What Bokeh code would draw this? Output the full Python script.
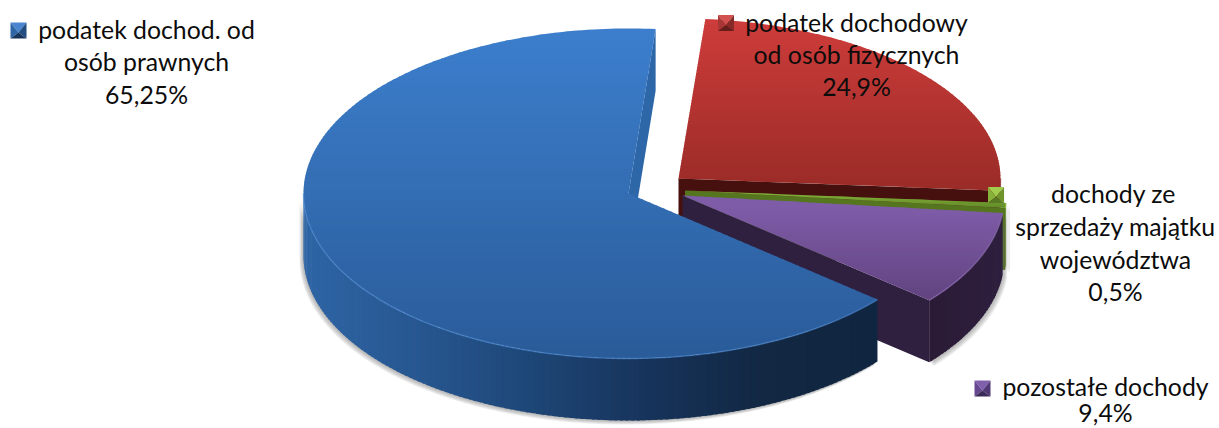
import math
from bokeh.plotting import figure
from bokeh.models import Range1d
from bokeh.core.properties import value
from bokeh.embed import file_html
from bokeh.resources import INLINE

# ---------- data ----------
categories = ["podatek dochod. od osób prawnych", "podatek dochodowy od osób fizycznych",
              "dochody ze sprzedaży majątku województwa", "pozostałe dochody"]
shares = [65.25, 24.9, 0.5, 9.4]
share_labels = ["65,25%", "24,9%", "0,5%", "9,4%"]

# ---------- layout ----------
W, H = 1219, 428
START_ANGLE = 40.0     # screen-clockwise from +x
DEPTH = 62.0
centres = [(628, 193), (678, 178), (684.5, 190), (682, 195)]
radii = [(325, 165), (322, 160), (322, 163), (322, 163)]
shadow_dir = [-0.8, 0.8, 0.8, 0.9]
top_cols = [("#3c7ecc", 33, "#2a5b98", 360), ("#cd3c3a", 19, "#992b27", 190),
            ("#84b33a", 190, "#5f8526", 208), ("#7f5ca8", 205, "#61437f", 300)]
wall_stops = [[(303, "#2e65a5"), (420, "#27568f"), (520, "#1e4879"), (640, "#17345c"), (760, "#122843"), (876, "#10253f")],
              [(0, "#45100e"), (2000, "#45100e")],
              [(0, "#5f8326"), (2000, "#5f8326")],
              [(920, "#2a1a35"), (1000, "#2e1f3e")]]
face_cols = ["#2d67a8", "#45100e", "#55751f", "#2f2040"]
rim_cols = ["#4d89d0", "#8a2724", "#94c040", "#8c6db5"]


def rgb(h):
    return tuple(int(h[i:i + 2], 16) for i in (1, 3, 5))


def mix(a, b, t):
    t = max(0.0, min(1.0, t))
    ca, cb = rgb(a), rgb(b)
    return "#%02x%02x%02x" % tuple(round(ca[i] + (cb[i] - ca[i]) * t) for i in range(3))


def stops_color(stops, x):
    if x <= stops[0][0]:
        return stops[0][1]
    for (x0, c0), (x1, c1) in zip(stops, stops[1:]):
        if x <= x1:
            return mix(c0, c1, (x - x0) / (x1 - x0))
    return stops[-1][1]


def clip(poly, y, keep_below):
    out = []
    n = len(poly)
    for i in range(n):
        a, b = poly[i], poly[(i + 1) % n]
        ina = a[1] >= y if keep_below else a[1] <= y
        inb = b[1] >= y if keep_below else b[1] <= y
        if ina:
            out.append(a)
        if ina != inb:
            t = (y - a[1]) / (b[1] - a[1])
            out.append((a[0] + (b[0] - a[0]) * t, y))
    return out


p = figure(width=W, height=H, x_range=Range1d(0, W), y_range=Range1d(H, 0),
           output_backend="svg", toolbar_location=None, min_border=0,
           outline_line_color=None, background_fill_color="white", border_fill_color="white")
p.axis.visible = False
p.grid.visible = False


def pt(c, r, a, dz=0.0):
    t = math.radians(a)
    return (c[0] + r[0] * math.cos(t), c[1] + r[1] * math.sin(t) + dz)


def arc(c, r, a0, a1, dz=0.0, step=1.0):
    n = max(2, int(abs(a1 - a0) / step) + 1)
    return [pt(c, r, a0 + (a1 - a0) * i / n, dz) for i in range(n + 1)]


def fill(poly, color, **kw):
    p.patch([q[0] for q in poly], [q[1] for q in poly], fill_color=color, line_color=None, **kw)


# angular extents from the data
angles = []
a = START_ANGLE
for s in shares:
    angles.append((a, a + s / sum(shares) * 360.0))
    a = angles[-1][1]


def visible_rim(a0, a1):
    spans = []
    for k in (-1, 0, 1, 2):
        lo, hi = max(a0, 360 * k), min(a1, 360 * k + 180)
        if hi > lo:
            spans.append((lo, hi))
    return spans


def draw_slice(i):
    c, r = centres[i], radii[i]
    a0, a1 = angles[i]
    # soft drop shadow under the outer wall
    for lo, hi in visible_rim(a0, a1):
        wall = arc(c, r, lo, hi) + arc(c, r, hi, lo, DEPTH)
        for d in (1, 2, 3, 4, 5):
            fill([(x + d * shadow_dir[i], y + d * 0.8) for x, y in wall], "#606060", fill_alpha=0.11)
    # cut faces seen from the front
    for e, sign in ((a0, -90), (a1, 90)):
        if math.sin(math.radians(e + sign)) > 0:
            q = pt(c, r, e)
            fill([c, q, (q[0], q[1] + DEPTH), (c[0], c[1] + DEPTH)], face_cols[i])
    # outer wall, shaded across x
    for lo, hi in visible_rim(a0, a1):
        n = max(1, int((hi - lo) / 1.0))
        for k in range(n):
            b0 = lo + (hi - lo) * k / n
            b1 = min(hi, lo + (hi - lo) * (k + 1.5) / n)
            q0, q1 = pt(c, r, b0), pt(c, r, b1)
            col = stops_color(wall_stops[i], (q0[0] + q1[0]) / 2)
            fill([q0, q1, (q1[0], q1[1] + DEPTH), (q0[0], q0[1] + DEPTH)], col)
    # top surface, shaded down y
    top = [tuple(c)] + arc(c, r, a0, a1)
    ct, yt, cb, yb = top_cols[i]
    ymin, ymax = min(q[1] for q in top), max(q[1] for q in top)
    y = ymin
    while y < ymax:
        band = clip(clip(top, y, True), y + 3.8, False)
        if len(band) > 2:
            fill(band, mix(ct, cb, (y - yt) / (yb - yt)))
        y += 3.0
    # bevel along the part of the rim that faces the viewer
    for lo, hi in visible_rim(a0, a1):
        rim = arc(c, r, lo, hi)
        p.line([q[0] for q in rim], [q[1] for q in rim], line_color=rim_cols[i], line_width=1.5, line_alpha=0.6)


for i in (1, 2, 3, 0):
    draw_slice(i)

# ---------- legend keys ----------
key_cols = [("#4a86cf", "#2f66a6", "#234d80", "#17345a"),
            ("#d2504e", "#a83634", "#862a28", "#651d1b"),
            ("#a2cc4c", "#86b23a", "#6f942c", "#587a22"),
            ("#8060ac", "#664890", "#503874", "#3c2a58")]
key_pos = [(18, 30), (725.5, 22.5), (995.5, 194.5), (982, 388)]
KEY = 8
for (kx, ky), cols in zip(key_pos, key_cols):
    tl, tr = (kx - KEY, ky - KEY), (kx + KEY, ky - KEY)
    bl, br = (kx - KEY, ky + KEY), (kx + KEY, ky + KEY)
    m = (kx, ky + 2)
    for tri, col in (([tl, tr, m], cols[0]), ([tl, bl, m], cols[1]), ([tr, br, m], cols[2]), ([bl, br, m], cols[3])):
        fill(tri, col)

# ---------- labels ----------
label_lines = [
    [("podatek dochod. od", 146, 29), ("osób prawnych", 146, 61), (share_labels[0], 146, 94)],
    [("podatek dochodowy", 856, 22), ("od osób fizycznych", 856, 54), (share_labels[1], 856, 86)],
    [("dochody ze", 1113, 193), ("sprzedaży majątku", 1115, 226), ("województwa", 1115, 259), (share_labels[2], 1115, 291)],
    [("pozostałe dochody", 1105, 386), (share_labels[3], 1105, 412)],
]
for lines in label_lines:
    for txt, x, y in lines:
        p.text([x], [y], text=[txt], text_font=value("Lato"), text_font_size="24.8px",
               text_color="#0c0c0c", text_align="center", text_baseline="middle")

open("out.html", "w").write(file_html(p, INLINE))
